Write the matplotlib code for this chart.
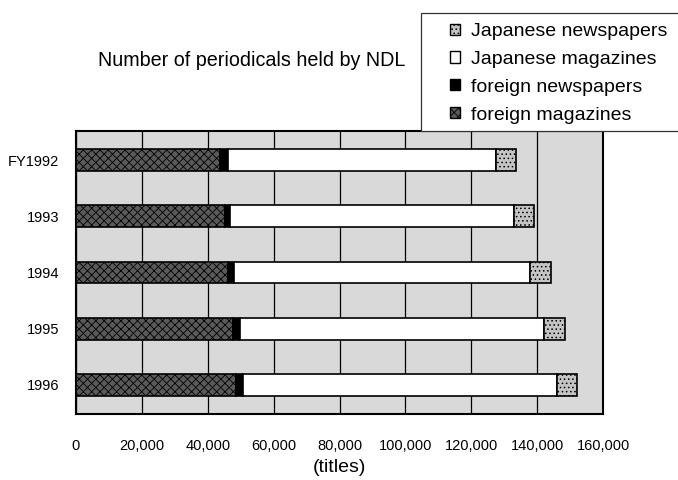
import matplotlib.pyplot as plt
from matplotlib.patches import Patch, Rectangle

plt.rcParams["font.family"] = ["Liberation Sans", "DejaVu Sans"]
plt.rcParams["hatch.linewidth"] = 0.6

years = ["FY1992", "1993", "1994", "1995", "1996"]
foreign_magazines = [43600, 45100, 46100, 47800, 48600]
foreign_newspapers = [2400, 1800, 2000, 2000, 2000]
japanese_magazines = [81600, 86200, 89600, 92200, 95300]
japanese_newspapers = [6000, 5900, 6400, 6400, 6200]
x_ticks = list(range(0, 160001, 20000))

W, H = 678, 480
fig = plt.figure(figsize=(W / 100, H / 100), dpi=100)
ax = fig.add_axes([76 / W, 1 - 414 / H, 527 / W, 283 / H])
ax.set_facecolor("#d9d9d9")

ypos = list(range(len(years)))
left = [0] * len(years)
series = [
    (foreign_magazines, "#5a5a5a", "xxxx"),
    (foreign_newspapers, "black", None),
    (japanese_magazines, "white", None),
    (japanese_newspapers, "#c4c4c4", "...."),
]
for vals, col, hatch in series:
    ax.barh(ypos, vals, left=left, height=0.39, color=col, edgecolor="black",
            linewidth=1.2, hatch=hatch, zorder=3)
    left = [a + b for a, b in zip(left, vals)]

ax.set_xlim(0, 160000)
ax.set_ylim(4.52, -0.52)
ax.set_xticks(x_ticks)
ax.set_xticklabels([f"{v:,}" for v in x_ticks], fontsize=10.5)
ax.tick_params(axis="x", length=0, pad=18)
ax.grid(axis="x", color="black", linewidth=0.9, zorder=1)
ax.set_yticks(ypos)
ax.set_yticklabels(years, fontsize=10.5)
ax.tick_params(axis="y", length=0, pad=12)
for s in ax.spines.values():
    s.set_linewidth(1.5)
ax.set_xlabel("(titles)", fontsize=14, labelpad=4)

fig.text(251.5 / W, 1 - 61 / H, "Number of periodicals held by NDL", fontsize=14.2,
         ha="center", va="center")

# legend frame runs off the right edge of the page in the source
fig.patches.append(Rectangle((421 / W, 1 - 131 / H), 300 / W, 118 / H,
                             transform=fig.transFigure, facecolor="white",
                             edgecolor="#333333", linewidth=0.9, zorder=0))
handles = [
    Patch(facecolor="#c4c4c4", edgecolor="black", hatch="....", label="Japanese newspapers"),
    Patch(facecolor="white", edgecolor="black", label="Japanese magazines"),
    Patch(facecolor="black", edgecolor="black", label="foreign newspapers"),
    Patch(facecolor="#5a5a5a", edgecolor="black", hatch="xxxx", label="foreign magazines"),
]
fig.legend(handles=handles, loc="upper left", bbox_to_anchor=(450 / W, 1 - 23 / H),
           fontsize=14, frameon=False, handlelength=0.5, handleheight=0.5,
           handletextpad=0.6, labelspacing=0.56, borderpad=0, borderaxespad=0)

fig.savefig("out.png", dpi=100, facecolor="white")
